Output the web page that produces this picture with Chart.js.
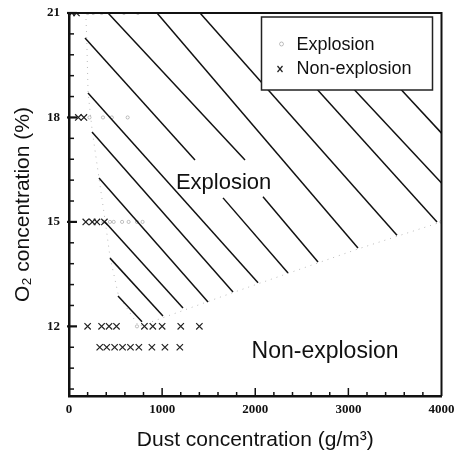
<!DOCTYPE html>
<html>
<head>
<meta charset="utf-8">
<title>O2 vs dust concentration</title>
<script src="https://cdn.jsdelivr.net/npm/chart.js@4.4.1/dist/chart.umd.min.js"></script>
<style>
  html, body { margin: 0; padding: 0; background: #fff; }
  #wrap { width: 457px; height: 453px; }
</style>
</head>
<body>
<div id="wrap"><canvas id="chart" width="457" height="453"></canvas></div>
<script>
// --- values ---
const xTicks = [0, 1000, 2000, 3000, 4000];
const yTicks = [12, 15, 18, 21];
const xMinorTicks = [200, 400, 600, 800, 1200, 1400, 1600, 1800, 2200, 2400, 2600, 2800, 3200, 3400, 3600, 3800];
const yMinorTicks = [10.2, 10.8, 11.4, 12.6, 13.2, 13.8, 14.4, 15.6, 16.2, 16.8, 17.4, 18.6, 19.2, 19.8, 20.4];

// explosion tests (faint circles)
const explosionPts = [
  [200, 21], [260, 21], [350, 21], [590, 21], [740, 21],
  [220, 18], [365, 18], [460, 18], [630, 18],
  [370, 15], [440, 15], [480, 15], [570, 15], [640, 15], [730, 15], [790, 15],
  [730, 12], [4000, 15]
];

// non-explosion tests (x)
const nonExplosionPts = [
  [30, 21], [80, 21],
  [100, 18], [160, 18],
  [180, 15], [250, 15], [300, 15], [380, 15],
  [200, 12], [350, 12], [430, 12], [510, 12], [810, 12], [900, 12], [1000, 12], [1200, 12], [1400, 12],
  [330, 11.4], [405, 11.4], [490, 11.4], [575, 11.4], [660, 11.4], [750, 11.4], [890, 11.4], [1030, 11.4], [1190, 11.4]
];

// dotted limit of the explosion region
const boundary = [
  [180, 21], [190, 20.3], [205, 18.7], [250, 17.6], [320, 16.3], [390, 15], [440, 14],
  [530, 12.9], [750, 12], [1760, 12.97], [3100, 14.22], [4000, 15]
];

// hatch strokes of the explosion region, [start, end]
const hatchSegments = [
  [[526, 12.87], [784, 12.13]],
  [[440, 13.96], [1009, 12.30]],
  [[387, 15.0], [1224, 12.53]],
  [[322, 16.26], [1493, 12.70]],
  [[247, 17.58], [1761, 12.99]],
  [[204, 18.70], [2030, 13.25]],
  [[172, 20.28], [1353, 16.78]],
  [[1654, 15.69], [2352, 13.53]],
  [[419, 21], [1890, 16.78]],
  [[2083, 15.72], [2674, 13.85]],
  [[945, 21], [3103, 14.25]],
  [[1407, 21], [3522, 14.62]],
  [[2137, 20.37], [3952, 15.0]],
  [[3017, 18.93], [4000, 16.12]],
  [[3501, 18.99], [4000, 17.55]]
];

const regionLabels = [
  { text: "Explosion", x: 1660, y: 15.94 },
  { text: "Non-explosion", x: 2750, y: 11.09 }
];

const legendItems = ["Explosion", "Non-explosion"];

// --- datasets ---
const toXY = (pts) => pts.map((p) => ({ x: p[0], y: p[1] }));

const hatchSets = hatchSegments.map((seg) => ({
  label: "hatch",
  data: toXY(seg),
  showLine: true,
  borderColor: "#111",
  borderWidth: 1.5,
  pointRadius: 0,
  clip: false,
}));

const datasets = hatchSets.concat([
  {
    label: "boundary",
    data: toXY(boundary),
    showLine: true,
    borderColor: "rgba(0,0,0,0.28)",
    borderWidth: 1,
    borderDash: [1, 5],
    pointRadius: 0,
  },
  {
    label: legendItems[0],
    data: toXY(explosionPts),
    pointStyle: "circle",
    pointRadius: 1.6,
    borderColor: "rgba(0,0,0,0.3)",
    borderWidth: 0.8,
    backgroundColor: "rgba(0,0,0,0)",
  },
  {
    label: legendItems[1],
    data: toXY(nonExplosionPts),
    pointStyle: "crossRot",
    pointRadius: 4.5,
    borderColor: "#222",
    borderWidth: 1.2,
  },
]);

// --- frame, inward ticks, labels and legend ---
const figureExtras = {
  id: "figureExtras",
  afterDatasetsDraw(chart) {
    const { ctx, chartArea: a, scales } = chart;
    const x = scales.x;
    const y = scales.y;

    function seg(x1, y1, x2, y2) {
      ctx.beginPath();
      ctx.moveTo(x1, y1);
      ctx.lineTo(x2, y2);
      ctx.stroke();
    }

    ctx.save();
    ctx.strokeStyle = "#111";

    // top and right border
    ctx.lineWidth = 2;
    ctx.beginPath();
    ctx.moveTo(a.left, a.top);
    ctx.lineTo(a.right, a.top);
    ctx.lineTo(a.right, a.bottom);
    ctx.stroke();

    // ticks pointing into the plot
    ctx.lineWidth = 1.5;
    xMinorTicks.forEach((v) => {
      const px = x.getPixelForValue(v);
      seg(px, a.bottom, px, a.bottom - 4);
    });
    xTicks.slice(1, -1).forEach((v) => {
      const px = x.getPixelForValue(v);
      seg(px, a.bottom + 1, px, a.bottom - 8);
    });
    yMinorTicks.forEach((v) => {
      const py = y.getPixelForValue(v);
      seg(a.left, py, a.left + 5, py);
    });
    yTicks.forEach((v) => {
      const py = y.getPixelForValue(v);
      ctx.lineWidth = 2.2;
      seg(a.left - 2, py, a.left + 8, py);
    });

    // region names
    ctx.fillStyle = "#111";
    ctx.textAlign = "center";
    ctx.textBaseline = "alphabetic";
    ctx.font = "22px 'Liberation Sans', Arial, sans-serif";
    ctx.fillText(regionLabels[0].text, x.getPixelForValue(regionLabels[0].x), y.getPixelForValue(regionLabels[0].y));
    ctx.font = "23px 'Liberation Sans', Arial, sans-serif";
    ctx.fillText(regionLabels[1].text, x.getPixelForValue(regionLabels[1].x), y.getPixelForValue(regionLabels[1].y));

    // legend box in the upper right corner
    const lx = a.right - 180;
    const ly = a.top + 4;
    const lw = 171;
    const lh = 73;
    ctx.fillStyle = "#fff";
    ctx.fillRect(lx, ly, lw, lh);
    ctx.lineWidth = 1.5;
    ctx.strokeStyle = "#222";
    ctx.strokeRect(lx, ly, lw, lh);

    // marker: circle
    ctx.lineWidth = 0.8;
    ctx.strokeStyle = "rgba(0,0,0,0.3)";
    ctx.beginPath();
    ctx.arc(lx + 20, ly + 27, 2, 0, Math.PI * 2);
    ctx.stroke();
    // marker: x
    ctx.lineWidth = 1.2;
    ctx.strokeStyle = "#222";
    seg(lx + 16, ly + 49, lx + 21, ly + 55);
    seg(lx + 21, ly + 49, lx + 16, ly + 55);

    ctx.fillStyle = "#111";
    ctx.textAlign = "left";
    ctx.font = "18px 'Liberation Sans', Arial, sans-serif";
    ctx.fillText(legendItems[0], lx + 35, ly + 33);
    ctx.fillText(legendItems[1], lx + 35, ly + 57);

    ctx.restore();
  },
};

const tickFont = { family: "'Liberation Serif', 'Times New Roman', serif", size: 13, weight: "bold" };
const titleFont = { family: "'Liberation Sans', Arial, sans-serif", size: 21, lineHeight: 1.2 };

new Chart(document.getElementById("chart"), {
  type: "scatter",
  data: { datasets: datasets },
  options: {
    responsive: false,
    animation: false,
    events: [],
    layout: { padding: { top: 13, right: 15.5, left: 0, bottom: 0 } },
    plugins: {
      legend: { display: false },
      tooltip: { enabled: false },
    },
    scales: {
      x: {
        type: "linear",
        min: 0,
        max: 4000,
        afterFit: (scale) => {
          scale.height = 57;
          scale.paddingLeft = 0;
          scale.paddingRight = 0;
        },
        afterBuildTicks: (scale) => { scale.ticks = xTicks.map((v) => ({ value: v })); },
        grid: { display: false, drawTicks: false },
        border: { display: true, width: 2.5, color: "#111" },
        ticks: { padding: 6, color: "#111", font: tickFont, callback: (v) => String(v) },
        title: {
          display: true,
          text: "Dust concentration (g/m³)",
          color: "#111",
          font: titleFont,
          padding: { top: 0, bottom: 0 },
        },
      },
      y: {
        type: "linear",
        min: 10,
        max: 21,
        afterFit: (scale) => {
          scale.width = 69;
          scale.paddingTop = 0;
          scale.paddingBottom = 0;
        },
        afterBuildTicks: (scale) => { scale.ticks = yTicks.map((v) => ({ value: v })); },
        grid: { display: false, drawTicks: false },
        border: { display: true, width: 2.5, color: "#111" },
        ticks: { padding: 9, color: "#111", font: tickFont, callback: (v) => String(v) },
        title: {
          display: true,
          text: "O₂ concentration (%)",
          color: "#111",
          font: titleFont,
          padding: { top: 11, bottom: 0 },
        },
      },
    },
  },
  plugins: [figureExtras],
});
</script>
</body>
</html>
